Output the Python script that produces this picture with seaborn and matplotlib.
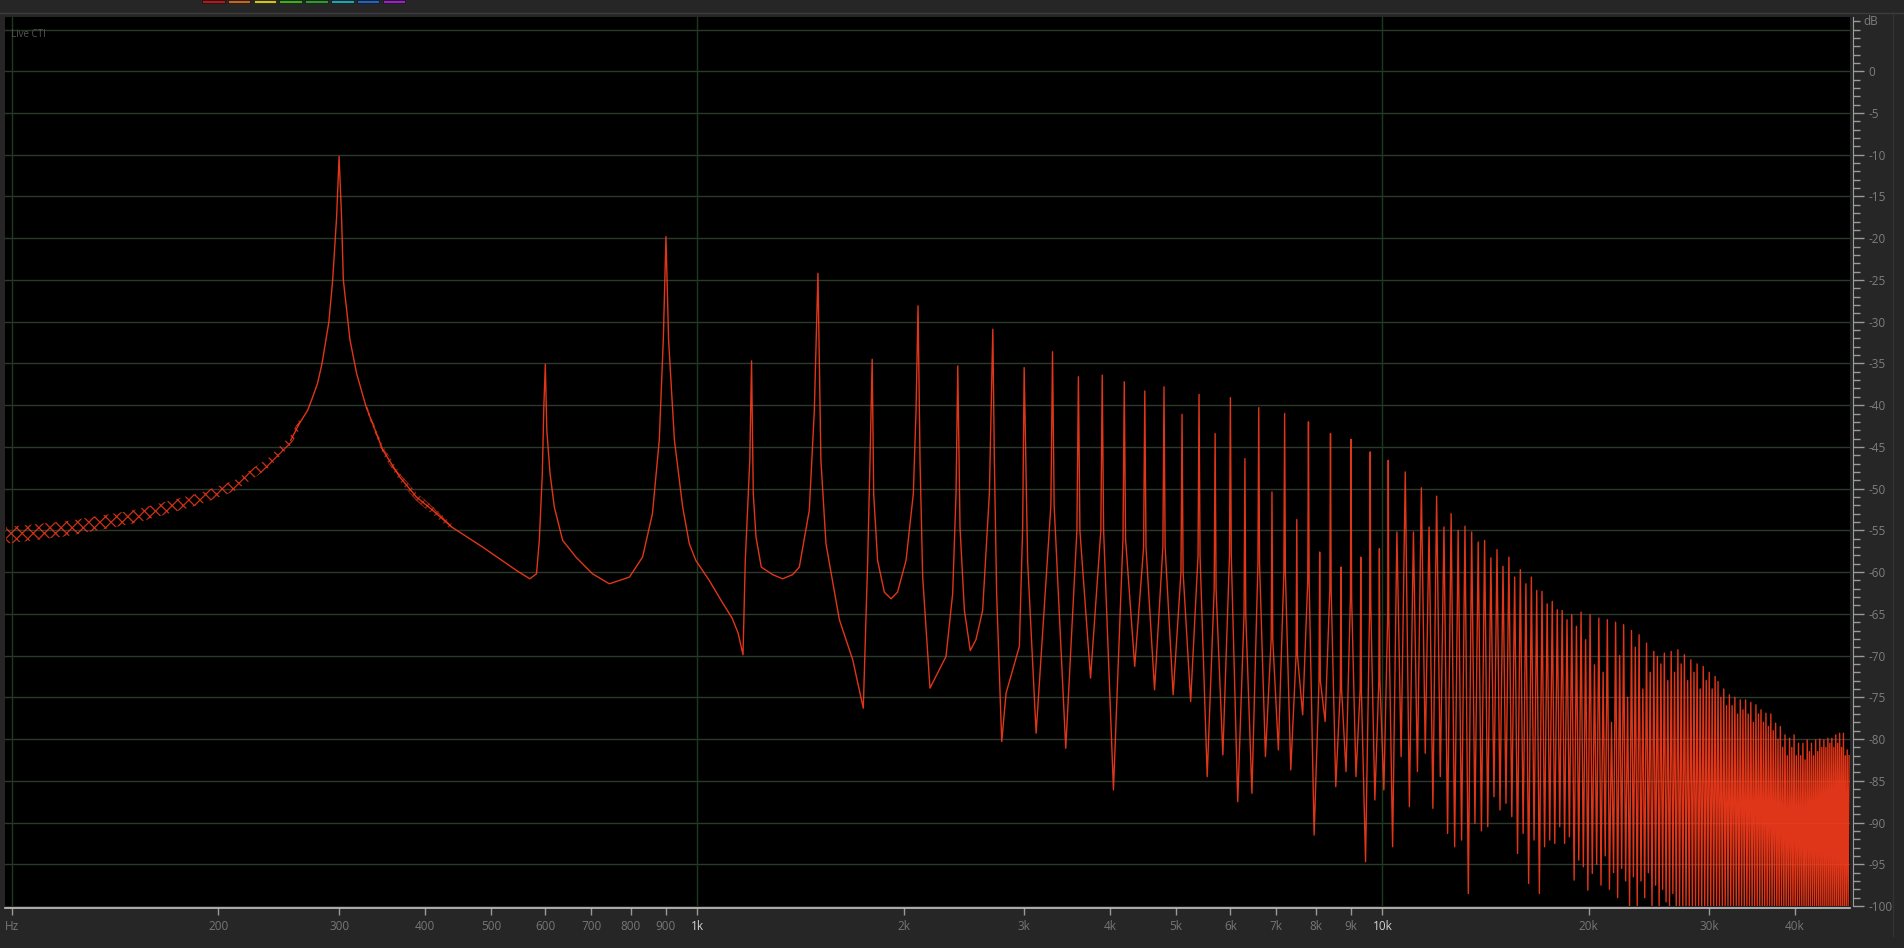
import matplotlib
matplotlib.use("Agg")
import pandas as pd
import matplotlib.pyplot as plt
import seaborn as sns
from matplotlib.patches import Rectangle
from matplotlib.ticker import NullLocator
from matplotlib import transforms

# ---- values ----
# hand traced part of the curve, 255 Hz .. 3.1 kHz
low_hz = [255, 262.5, 270, 274.6, 279, 283.3, 289.9, 293.6, 297.5,
          300, 302.5, 304.3, 311.2, 318.2, 328.5, 347.6, 367.8, 389, 411, 438, 486, 544.5, 569.5,
          582.5, 588, 594, 597, 600, 603, 609.6, 618.4, 636, 665, 703, 744, 796, 832, 860, 880,
          892, 900, 908, 926, 952, 973.5, 995, 1041, 1089, 1124, 1147, 1166, 1175, 1193, 1200,
          1207, 1218, 1240, 1288, 1332, 1378, 1409, 1457, 1482, 1500, 1515, 1541, 1612, 1686,
          1747, 1773, 1787, 1800, 1809, 1833, 1875, 1918, 1960, 2017, 2067, 2086, 2100, 2114,
          2133, 2186, 2307, 2359, 2386, 2400, 2418, 2454, 2503, 2551, 2609, 2669, 2700, 2714,
          2735, 2782, 2823, 2952, 2985, 3000, 3035, 3123]
low_db = [-44.2, -42.2, -40.6, -39.0, -37.4, -35.0, -30.0,
          -25.0, -17.5, -10.2, -17.5, -25.0, -32.2, -36.2, -40.2, -45.4, -48.6, -51.0, -52.6, -54.6,
          -57.0, -59.8, -60.8, -60.2, -56.2, -48.2, -40.2, -35.1, -43.0, -48.2, -52.2, -56.2, -58.2,
          -60.2, -61.4, -60.6, -58.2, -53.0, -44.2, -32.2, -19.8, -32.2, -44.2, -52.2, -56.6, -58.6,
          -61.0, -63.7, -65.5, -67.3, -69.9, -58.6, -46.6, -34.7, -50.6, -55.8, -59.4, -60.3, -60.8,
          -60.3, -59.4, -52.6, -40.6, -24.2, -46.6, -56.6, -65.7, -70.5, -76.3, -58.6, -46.6, -34.5,
          -50.6, -58.6, -62.4, -63.2, -62.4, -58.6, -50.6, -40.6, -28.1, -46.6, -60.6, -73.9, -70.1,
          -62.6, -50.6, -35.3, -54.6, -64.6, -69.4, -68.1, -64.6, -50.6, -30.9, -46.6, -62.6, -80.3,
          -74.5, -68.9, -54.6, -35.5, -58.6, -79.3]

# window ripple below 265 Hz and on the upper skirt (lower / upper edge of the wiggle)
ripple_left_hz = [98, 120, 150, 188, 211, 236, 255, 263]
ripple_left_lo = [-56.6, -55.7, -54.2, -51.9, -50.3, -47.6, -44.8, -42.8]
ripple_left_hi = [-54.6, -53.9, -52.6, -50.5, -49.0, -46.4, -43.6, -41.6]
ripple_right_hz = [328.5, 347.6, 367.8, 389, 411, 438]
ripple_right_lo = [-40.6, -45.9, -49.1, -51.5, -53.1, -55.0]
ripple_right_hi = [-39.8, -44.9, -48.1, -50.5, -52.1, -54.2]

# harmonic lines from the 11th (3.3 kHz) up to 48 kHz
fundamental_hz = 300
harmonic_n = list(range(11, 161))
peak_db = [-33.6, -36.6, -36.4, -37.2, -38.3, -37.8, -41.1, -38.7, -43.4, -39.1,
           -46.4, -40.3, -50.4, -41.0, -53.7, -42.0, -57.6, -43.4, -59.4, -44.1,
           -58.2, -45.6, -57.2, -46.6, -55.2, -48.0, -55.2, -49.9, -54.6, -50.9,
           -54.6, -53.0, -55.0, -54.5, -55.2, -56.4, -56.2, -58.3, -57.3, -59.3,
           -58.2, -60.6, -59.7, -61.4, -60.6, -62.2, -62.3, -63.8, -63.5, -64.5,
           -64.6, -65.7, -65.1, -66.5, -64.8, -68.1, -65.1, -71.1, -65.5, -72.0,
           -65.7, -78.0, -66.0, -70.0, -66.3, -75.0, -67.0, -69.0, -67.5, -74.0,
           -68.5, -72.0, -69.5, -70.1, -71.0, -69.7, -73.0, -69.5, -72.0, -69.3,
           -71.0, -69.9, -73.0, -70.5, -72.0, -71.0, -74.0, -71.3, -73.0, -72.0,
           -74.0, -72.5, -73.1, -75.0, -74.0, -76.0, -74.7, -76.0, -75.0, -77.0,
           -75.3, -76.5, -75.3, -77.0, -75.6, -78.0, -75.9, -77.0, -76.5, -78.0,
           -76.9, -78.5, -77.0, -79.0, -78.1, -80.0, -78.5, -81.0, -79.5, -82.0,
           -79.9, -81.0, -79.5, -82.0, -80.5, -82.0, -80.5, -82.5, -80.1, -81.5,
           -80.5, -82.0, -80.1, -81.5, -80.0, -81.0, -80.1, -81.0, -79.9, -80.5,
           -79.9, -81.0, -79.5, -80.5, -79.3, -81.0, -79.3, -82.0, -81.3, -82.0]
# level close beside the tip (harmonics 11..34, where the lines are still apart)
neck_db = [-52, -55, -55, -56, -57, -57, -60, -58, -62, -58, -65, -59,
           -68, -60, -70, -61, -73, -62, -74, -63, -74, -64, -73, -65]
# minimum between harmonic n and n+1 (n = 11..159)
trough_db = [-81.1, -72.7, -86.1, -71.3, -74.1, -74.7, -75.5, -84.5, -81.9, -87.5,
             -86.5, -82.1, -81.3, -83.7, -77.1, -91.5, -77.9, -85.7, -83.9, -84.5,
             -94.7, -87.3, -86.1, -92.9, -82.1, -88.1, -83.9, -81.7, -88.3, -84.5,
             -91.3, -92.9, -92.1, -98.5, -90.1, -91.0, -90.5, -86.9, -88.5, -87.7,
             -89.3, -93.7, -91.3, -97.3, -92.1, -98.5, -92.9, -92.1, -92.5, -90.5,
             -92.5, -91.7, -96.9, -94.5, -95.3, -98.1, -96.1, -95.0, -97.5, -94.0,
             -98.0, -96.0, -99.0, -95.5, -97.0, -100.0, -96.5, -100.0, -97.0, -99.0,
             -96.0, -100.0, -97.5, -100.0, -98.0, -99.5, -100.0, -98.5, -100.0] + [-100.0] * 70  # floor

freq_ticks = [100, 200, 300, 400, 500, 600, 700, 800, 900, 1000, 2000, 3000, 4000, 5000,
              6000, 7000, 8000, 9000, 10000, 20000, 30000, 40000]
freq_labels = ["Hz", "200", "300", "400", "500", "600", "700", "800", "900", "1k", "2k", "3k",
               "4k", "5k", "6k", "7k", "8k", "9k", "10k", "20k", "30k", "40k"]
db_ticks = list(range(-100, 1, 5))
db_labels = [str(v) for v in db_ticks]

# ---- build the trace ----
hz, db = list(low_hz), list(low_db)
for i, n in enumerate(harmonic_n):
    f = n * fundamental_hz
    if i < len(neck_db):
        hz += [f - 18, f, f + 18]
        db += [neck_db[i], peak_db[i], neck_db[i]]
    else:
        hz.append(f)
        db.append(peak_db[i])
    if i < len(trough_db):
        hz.append((n + 0.5) * fundamental_hz)
        db.append(trough_db[i])
df = pd.DataFrame({"hz": hz, "db": db})

plt.rcParams["font.family"] = ["Open Sans", "DejaVu Sans"]
plt.rcParams["hatch.linewidth"] = 0.9
W, H = 1904, 948
fig = plt.figure(figsize=(W / 100, H / 100), dpi=100, facecolor="#262626")
ax = fig.add_axes([5 / W, 42 / H, 1845 / W, 889 / H], facecolor="black")
ax.set_xscale("log")
ax.set_xlim(97.6, 48150)
ax.set_ylim(-100, 6.5)

# grid
for v in range(-95, 6, 5):
    ax.axhline(v, color="#2b392b", lw=1, zorder=0)
for v in [100, 1000, 10000]:
    ax.axvline(v, color="#1c3a1c", lw=1, zorder=0)

line_col = "#ff3d1c"
# ripple drawn as a textured ribbon between its lower and upper edge
ax.fill_between(ripple_left_hz, ripple_left_lo, ripple_left_hi, facecolor="none",
                edgecolor=line_col, hatch="xxx", lw=0, alpha=0.8)
ax.fill_between(ripple_right_hz, ripple_right_lo, ripple_right_hi, facecolor="none",
                edgecolor=line_col, hatch="xxxx", lw=0, alpha=0.6)
sns.lineplot(data=df, x="hz", y="db", sort=False, estimator=None, color=line_col,
             linewidth=1.0, alpha=0.88, ax=ax)
ax.set_xlabel("")
ax.set_ylabel("")

# axes
for s in ["top", "left"]:
    ax.spines[s].set_visible(False)
ax.spines["bottom"].set_color("#c4c4c4")
ax.spines["bottom"].set_linewidth(1.2)
ax.spines["bottom"].set_position(("outward", 1.5))
ax.spines["right"].set_color("#9c9c9c")
ax.spines["right"].set_position(("outward", 2.2))

ax.xaxis.set_minor_locator(NullLocator())
ax.set_xticks(freq_ticks)
ax.set_xticklabels(freq_labels)
ax.tick_params(axis="x", direction="out", length=5, width=1, color="#9a9a9a",
               labelcolor="#767676", labelsize=8.5, pad=3.5)
for lab in ax.get_xticklabels():
    if lab.get_text() in ("1k", "10k"):
        lab.set_color("#d4d4d4")

ax.yaxis.tick_right()
ax.set_yticks(db_ticks)
ax.set_yticklabels(db_labels)
ax.set_yticks(list(range(-100, 7)), minor=True)
ax.tick_params(axis="y", which="major", direction="out", length=8, width=1, color="#9a9a9a",
               labelcolor="#7e7e7e", labelsize=8.5, pad=3)
ax.tick_params(axis="y", which="minor", direction="out", length=5, width=1, color="#9a9a9a")
off = transforms.offset_copy(ax.get_yaxis_transform(), fig=fig, x=13, y=0, units="dots")
ax.text(1, 6, "dB", transform=off, color="#7e7e7e", fontsize=8.5, va="center", ha="left")

ax.text(0.003, 0.987, "Live CTI", transform=ax.transAxes, color="#555555", fontsize=7,
        va="top", ha="left")

# window chrome: toolbar swatches and frame lines
fig.add_artist(plt.Line2D([0, 1], [1 - 12.5 / H, 1 - 12.5 / H], color="#3c3c3c", lw=1))
fig.add_artist(plt.Line2D([1893 / W, 1893 / W], [12 / H, 1 - 12 / H], color="#333333", lw=1))
swatch_cols = ["#b3181c", "#c4661e", "#d4c21c", "#3fae1e", "#2f9a2f", "#1fa2b4", "#2262c0", "#9a22c2"]
for i, c in enumerate(swatch_cols):
    x0 = 202 + i * 25.8
    fig.patches.append(Rectangle((x0 / W, 1 - 3 / H), 22.5 / W, 3 / H, transform=fig.transFigure,
                                 facecolor=c, edgecolor="#111111", lw=0.5))

fig.savefig("out.png", dpi=100, facecolor=fig.get_facecolor())
